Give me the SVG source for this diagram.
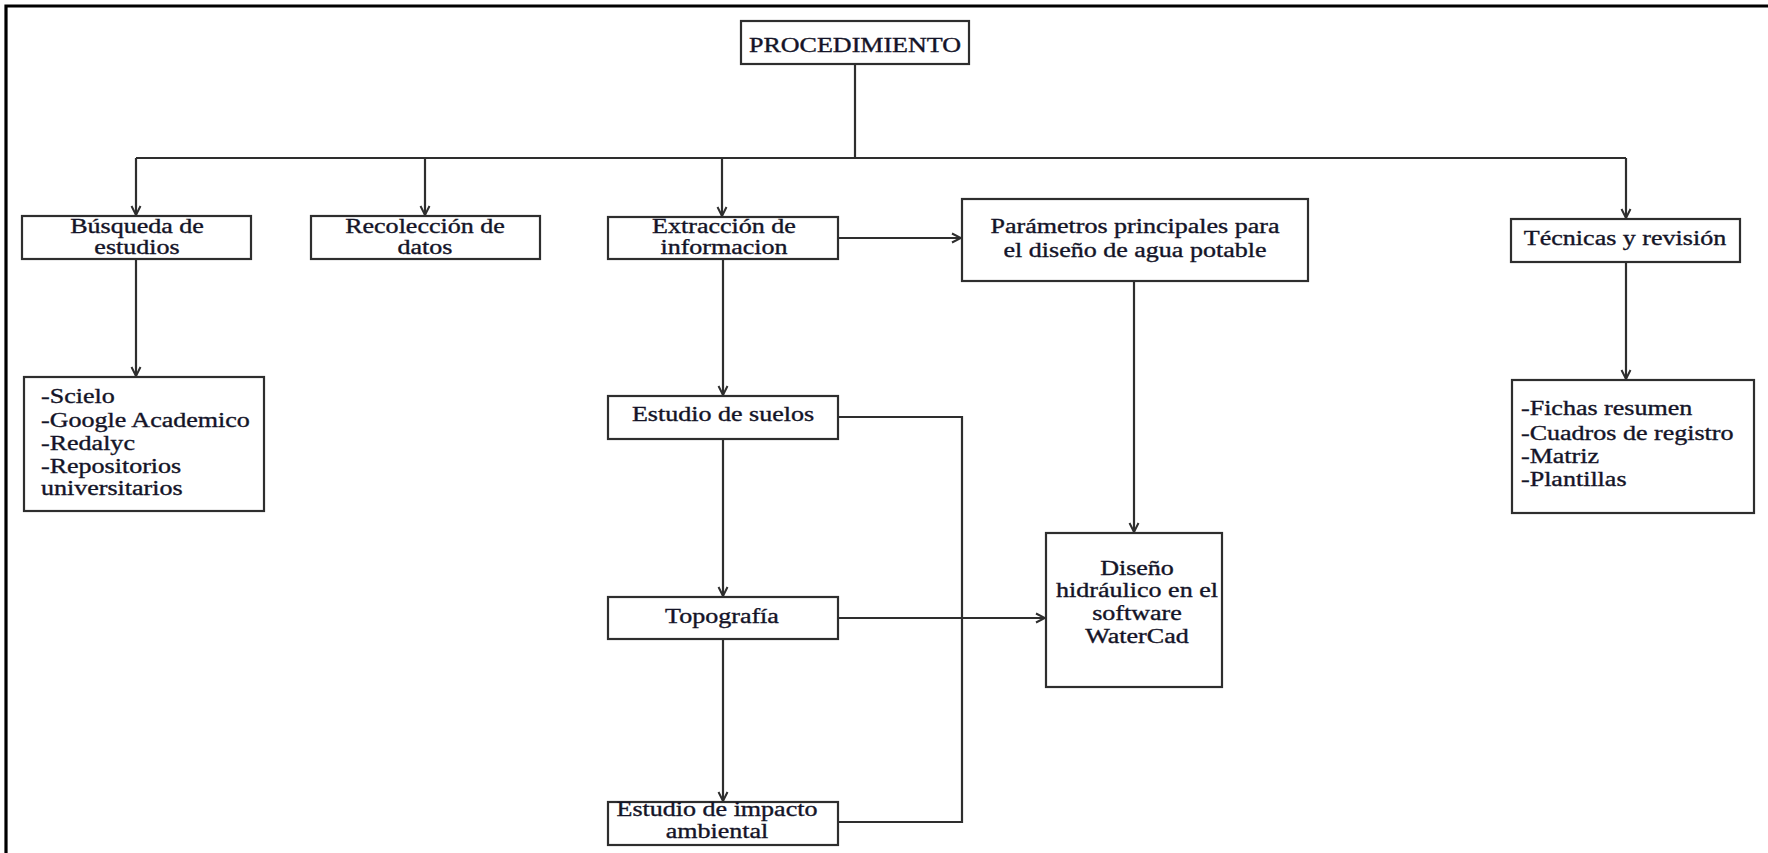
<svg xmlns="http://www.w3.org/2000/svg" width="1768" height="853" viewBox="0 0 1768 853">
<defs>
<style>
.box{fill:#fff;stroke:#2e2e2e;stroke-width:2.2}
.ln{fill:none;stroke:#2e2e2e;stroke-width:2.2}
.t{font-family:"Liberation Serif","Times New Roman",serif;font-size:20.5px;fill:#141428;stroke:#141428;stroke-width:0.35}
.c{text-anchor:middle}
</style>
<marker id="ah" viewBox="0 0 12 12" refX="11" refY="6" markerWidth="12" markerHeight="12" markerUnits="userSpaceOnUse" orient="auto">
<path d="M2,1.5 L11,6 L2,10.5" fill="none" stroke="#2e2e2e" stroke-width="2"/>
</marker>
</defs>
<rect width="1768" height="853" fill="#fff"/>
<path d="M6,853 V6 H1768" fill="none" stroke="#000" stroke-width="3.2"/>

<g id="connectors">
<path class="ln" d="M855,64 V158"/>
<path class="ln" d="M136,158 H1626"/>
<path class="ln" d="M136,158 V215" marker-end="url(#ah)"/>
<path class="ln" d="M425,158 V215" marker-end="url(#ah)"/>
<path class="ln" d="M722,158 V216" marker-end="url(#ah)"/>
<path class="ln" d="M1626,158 V218" marker-end="url(#ah)"/>
<path class="ln" d="M136,259 V376" marker-end="url(#ah)"/>
<path class="ln" d="M723,259 V395" marker-end="url(#ah)"/>
<path class="ln" d="M838,238 H961" marker-end="url(#ah)"/>
<path class="ln" d="M1134,281 V532" marker-end="url(#ah)"/>
<path class="ln" d="M1626,262 V379" marker-end="url(#ah)"/>
<path class="ln" d="M723,439 V596" marker-end="url(#ah)"/>
<path class="ln" d="M723,639 V801" marker-end="url(#ah)"/>
<path class="ln" d="M838,618 H1045" marker-end="url(#ah)"/>
<path class="ln" d="M838,417 H962 V822 H838"/>
</g>

<g id="procedimiento">
<rect class="box" x="741" y="21" width="228" height="43"/>
<text class="t c" transform="translate(855,0) scale(1.27,1)"><tspan x="0" y="52">PROCEDIMIENTO</tspan></text>
</g>

<g id="busqueda">
<rect class="box" x="22" y="216" width="229" height="43"/>
<text class="t c" transform="translate(137,0) scale(1.27,1)"><tspan x="0" y="233">Búsqueda de</tspan><tspan x="0" y="254">estudios</tspan></text>
</g>

<g id="recoleccion">
<rect class="box" x="311" y="216" width="229" height="43"/>
<text class="t c" transform="translate(425,0) scale(1.27,1)"><tspan x="0" y="233">Recolección de</tspan><tspan x="0" y="254">datos</tspan></text>
</g>

<g id="extraccion">
<rect class="box" x="608" y="217" width="230" height="42"/>
<text class="t c" transform="translate(724,0) scale(1.27,1)"><tspan x="0" y="233">Extracción de</tspan><tspan x="0" y="254">informacion</tspan></text>
</g>

<g id="parametros">
<rect class="box" x="962" y="199" width="346" height="82"/>
<text class="t c" transform="translate(1135,0) scale(1.27,1)"><tspan x="0" y="233">Parámetros principales para</tspan><tspan x="0" y="257">el diseño de agua potable</tspan></text>
</g>

<g id="tecnicas">
<rect class="box" x="1511" y="219" width="229" height="43"/>
<text class="t c" transform="translate(1625,0) scale(1.27,1)"><tspan x="0" y="245">Técnicas y revisión</tspan></text>
</g>

<g id="fuentes">
<rect class="box" x="24" y="377" width="240" height="134"/>
<text class="t" transform="translate(41,0) scale(1.27,1)"><tspan x="0" y="403">-Scielo</tspan><tspan x="0" y="427">-Google Academico</tspan><tspan x="0" y="450">-Redalyc</tspan><tspan x="0" y="473">-Repositorios</tspan><tspan x="0" y="495">universitarios</tspan></text>
</g>

<g id="instrumentos">
<rect class="box" x="1512" y="380" width="242" height="133"/>
<text class="t" transform="translate(1521,0) scale(1.27,1)"><tspan x="0" y="415">-Fichas resumen</tspan><tspan x="0" y="440">-Cuadros de registro</tspan><tspan x="0" y="463">-Matriz</tspan><tspan x="0" y="486">-Plantillas</tspan></text>
</g>

<g id="suelos">
<rect class="box" x="608" y="396" width="230" height="43"/>
<text class="t c" transform="translate(723,0) scale(1.27,1)"><tspan x="0" y="421">Estudio de suelos</tspan></text>
</g>

<g id="topografia">
<rect class="box" x="608" y="597" width="230" height="42"/>
<text class="t c" transform="translate(722,0) scale(1.27,1)"><tspan x="0" y="623">Topografía</tspan></text>
</g>

<g id="impacto">
<rect class="box" x="608" y="802" width="230" height="43"/>
<text class="t c" transform="translate(717,0) scale(1.27,1)"><tspan x="0" y="816">Estudio de impacto</tspan><tspan x="0" y="838">ambiental</tspan></text>
</g>

<g id="diseno">
<rect class="box" x="1046" y="533" width="176" height="154"/>
<text class="t c" transform="translate(1137,0) scale(1.27,1)"><tspan x="0" y="575">Diseño</tspan><tspan x="0" y="597">hidráulico en el</tspan><tspan x="0" y="620">software</tspan><tspan x="0" y="643">WaterCad</tspan></text>
</g>
</svg>
